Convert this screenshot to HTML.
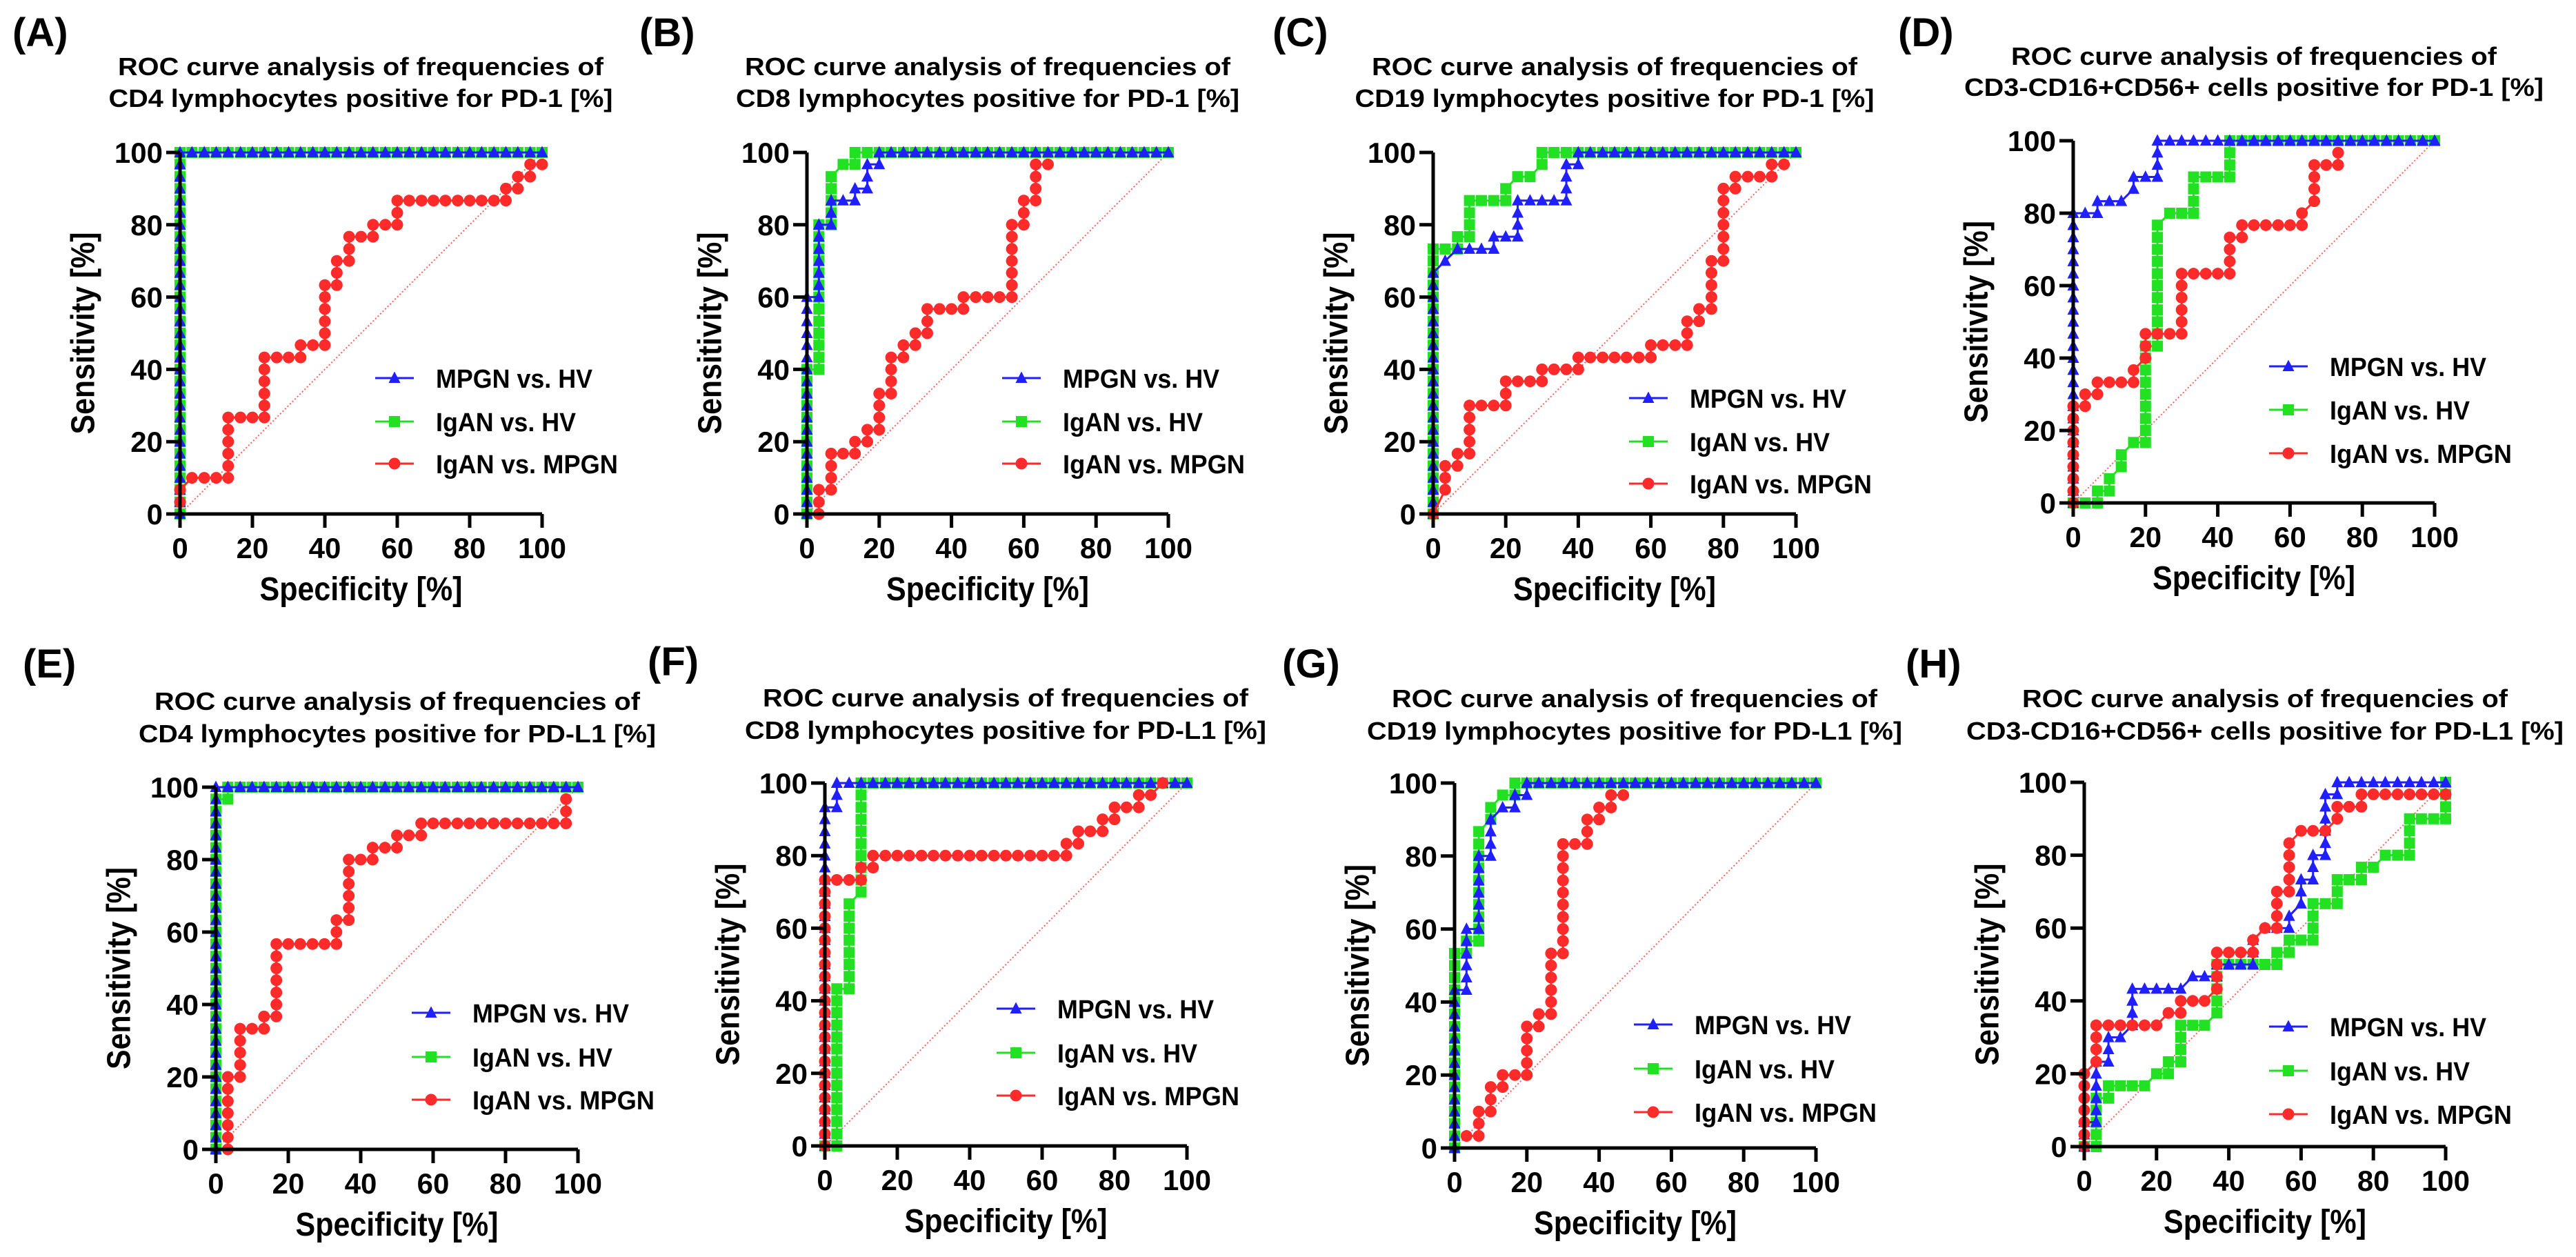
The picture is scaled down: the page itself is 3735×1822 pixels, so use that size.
<!DOCTYPE html>
<html><head><meta charset="utf-8"><style>
html,body{margin:0;padding:0;background:#fff;}
svg{display:block;font-family:"Liberation Sans",Arial,sans-serif;font-weight:bold;}
</style></head><body>
<svg id="fig" width="3735" height="1822" viewBox="0 0 3735 1822" xmlns="http://www.w3.org/2000/svg"></svg>
<script>
// Observed marker grid (percent)
const GRID = [0,3.3,6.7,10,13.3,16.7,20,23.3,26.7,30,33.3,36.7,40,43.3,46.7,50,53.3,56.7,60,63.3,66.7,70,73.3,76.7,80,83.3,86.7,90,93.3,96.7,100];
const xTicks = [0,20,40,60,80,100];
const yTicks = [0,20,40,60,80,100];
const seriesNames = ["MPGN vs. HV","IgAN vs. HV","IgAN vs. MPGN"];

const panelLabels = ["(A)","(B)","(C)","(D)","(E)","(F)","(G)","(H)"];
const titleLine1 = "ROC curve analysis of frequencies of";
const titleLine2 = ["CD4 lymphocytes positive for PD-1 [%]","CD8 lymphocytes positive for PD-1 [%]","CD19 lymphocytes positive for PD-1 [%]","CD3-CD16+CD56+ cells positive for PD-1 [%]","CD4 lymphocytes positive for PD-L1 [%]","CD8 lymphocytes positive for PD-L1 [%]","CD19 lymphocytes positive for PD-L1 [%]","CD3-CD16+CD56+ cells positive for PD-L1 [%]"];

// Series corner points [x(100-spec), sensitivity]
const aBlue=[[0,0],[0,100],[100,100]];
const aGreen=[[0,0],[0,100],[100,100]];
const aRed=[[0,3.3],[0,6.7],[3.3,10],[13.3,10],[13.3,26.7],[23.3,26.7],[23.3,43.3],[33.3,43.3],[33.3,46.7],[40,46.7],[40,63.3],[43.3,63.3],[43.3,70],[46.7,70],[46.7,76.7],[53.3,76.7],[53.3,80],[60,80],[60,86.7],[90,86.7],[90,90],[93.3,90],[93.3,93.3],[96.7,93.3],[96.7,96.7],[100,96.7]];
const bBlue=[[0,0],[0,60],[3.3,60],[3.3,80],[6.7,80],[6.7,86.7],[13.3,86.7],[13.3,90],[16.7,90],[16.7,96.7],[20,96.7],[20,100],[100,100]];
const bGreen=[[0,0],[0,40],[3.3,40],[3.3,80],[6.7,80],[6.7,93.3],[10,96.7],[13.3,96.7],[13.3,100],[100,100]];
const bRed=[[3.3,0],[3.3,6.7],[6.7,6.7],[6.7,16.7],[13.3,16.7],[13.3,20],[16.7,20],[16.7,23.3],[20,23.3],[20,33.3],[23.3,33.3],[23.3,43.3],[26.7,43.3],[26.7,46.7],[30,46.7],[30,50],[33.3,50],[33.3,56.7],[43.3,56.7],[43.3,60],[56.7,60],[56.7,80],[60,80],[60,86.7],[63.3,86.7],[63.3,96.7],[66.7,96.7]];
const cBlue=[[0,0],[0,66.7],[3.3,70],[6.7,73.3],[16.7,73.3],[16.7,76.7],[23.3,76.7],[23.3,86.7],[36.7,86.7],[36.7,96.7],[40,96.7],[40,100],[100,100]];
const cGreen=[[0,0],[0,73.3],[6.7,73.3],[6.7,76.7],[10,76.7],[10,86.7],[20,86.7],[20,90],[23.3,93.3],[26.7,93.3],[30,96.7],[30,100],[100,100]];
const cRed=[[0,0],[3.3,6.7],[3.3,13.3],[6.7,13.3],[6.7,16.7],[10,16.7],[10,30],[20,30],[20,36.7],[30,36.7],[30,40],[40,40],[40,43.3],[60,43.3],[60,46.7],[70,46.7],[70,53.3],[73.3,53.3],[73.3,56.7],[76.7,56.7],[76.7,70],[80,70],[80,90],[83.3,90],[83.3,93.3],[93.3,93.3],[93.3,96.7],[96.7,96.7]];
const dBlue=[[0,0],[0,80],[6.7,80],[6.7,83.3],[13.3,83.3],[16.7,86.7],[16.7,90],[23.3,90],[23.3,100],[100,100]];
const dGreen=[[0,0],[6.7,0],[6.7,3.3],[10,3.3],[10,6.7],[13.3,10],[13.3,13.3],[16.7,16.7],[20,16.7],[20,43.3],[23.3,43.3],[23.3,76.7],[26.7,80],[33.3,80],[33.3,90],[43.3,90],[43.3,100],[100,100]];
const dRed=[[0,0],[0,26.7],[3.3,26.7],[3.3,30],[6.7,30],[6.7,33.3],[16.7,33.3],[16.7,36.7],[20,40],[20,46.7],[30,46.7],[30,63.3],[43.3,63.3],[43.3,73.3],[46.7,73.3],[46.7,76.7],[63.3,76.7],[63.3,80],[66.7,83.3],[66.7,93.3],[73.3,93.3],[73.3,96.7]];
const eBlue=[[0,0],[0,100],[100,100]];
const eGreen=[[0,0],[0,96.7],[3.3,96.7],[3.3,100],[100,100]];
const eRed=[[3.3,0],[3.3,20],[6.7,20],[6.7,33.3],[13.3,33.3],[13.3,36.7],[16.7,36.7],[16.7,56.7],[33.3,56.7],[33.3,63.3],[36.7,63.3],[36.7,80],[43.3,80],[43.3,83.3],[50,83.3],[50,86.7],[56.7,86.7],[56.7,90],[96.7,90],[96.7,96.7]];
const fBlue=[[0,0],[0,93.3],[3.3,93.3],[3.3,100],[100,100]];
const fGreen=[[0,0],[3.3,0],[3.3,43.3],[6.7,43.3],[6.7,66.7],[10,70],[10,100],[100,100]];
const fRed=[[0,0],[0,73.3],[10,73.3],[10,76.7],[13.3,76.7],[13.3,80],[66.7,80],[66.7,83.3],[70,83.3],[70,86.7],[76.7,86.7],[76.7,90],[80,90],[80,93.3],[86.7,93.3],[86.7,96.7],[90,96.7],[93.3,100]];
const gBlue=[[0,0],[0,43.3],[3.3,43.3],[3.3,60],[6.7,60],[6.7,80],[10,80],[10,90],[13.3,93.3],[16.7,93.3],[16.7,96.7],[20,96.7],[20,100],[100,100]];
const gGreen=[[0,0],[0,53.3],[3.3,53.3],[3.3,56.7],[6.7,56.7],[6.7,86.7],[10,90],[10,93.3],[13.3,96.7],[16.7,96.7],[16.7,100],[100,100]];
const gRed=[[3.3,3.3],[6.7,3.3],[6.7,10],[10,10],[10,16.7],[13.3,16.7],[13.3,20],[20,20],[20,33.3],[23.3,33.3],[23.3,36.7],[26.7,36.7],[26.7,53.3],[30,53.3],[30,83.3],[36.7,83.3],[36.7,90],[40,90],[40,93.3],[43.3,93.3],[43.3,96.7],[46.7,96.7]];
const hBlue=[[0,0],[0,6.7],[3.3,6.7],[3.3,23.3],[6.7,23.3],[6.7,30],[10,30],[13.3,33.3],[13.3,43.3],[26.7,43.3],[30,46.7],[36.7,46.7],[36.7,50],[46.7,50],[46.7,56.7],[50,60],[56.7,60],[56.7,63.3],[60,66.7],[60,73.3],[63.3,73.3],[63.3,80],[66.7,80],[66.7,96.7],[70,96.7],[70,100],[100,100]];
const hGreen=[[0,0],[3.3,0],[3.3,13.3],[6.7,13.3],[6.7,16.7],[16.7,16.7],[20,20],[23.3,20],[23.3,23.3],[26.7,23.3],[26.7,33.3],[33.3,33.3],[36.7,36.7],[36.7,50],[53.3,50],[53.3,53.3],[56.7,53.3],[56.7,56.7],[63.3,56.7],[63.3,66.7],[70,66.7],[70,73.3],[76.7,73.3],[76.7,76.7],[80,76.7],[83.3,80],[90,80],[90,90],[100,90],[100,100]];
const hRed=[[0,0],[0,20],[3.3,23.3],[3.3,33.3],[20,33.3],[23.3,36.7],[26.7,36.7],[26.7,40],[33.3,40],[36.7,43.3],[36.7,53.3],[46.7,53.3],[46.7,56.7],[50,60],[53.3,60],[53.3,70],[56.7,70],[56.7,83.3],[60,86.7],[66.7,86.7],[70,90],[70,93.3],[76.7,93.3],[76.7,96.7],[100,96.7]];

const blueSeries=[aBlue,bBlue,cBlue,dBlue,eBlue,fBlue,gBlue,hBlue];
const greenSeries=[aGreen,bGreen,cGreen,dGreen,eGreen,fGreen,gGreen,hGreen];
const redSeries=[aRed,bRed,cRed,dRed,eRed,fRed,gRed,hRed];

// layout (pixels)
const L=[
 {x0:261,x1:786,yT:221,yB:745,lab:[18,67],tc:523,tb:[109,155],tw2:731,lx:544,ly:[548,611,672]},
 {x0:1170,x1:1694,yT:221,yB:745,lab:[927,67],tc:1432,tb:[109,155],tw2:730,lx:1453,ly:[548,611,672]},
 {x0:2078,x1:2604,yT:221,yB:745,lab:[1845,67],tc:2341,tb:[109,155],tw2:753,lx:2362,ly:[577,640,701]},
 {x0:3006,x1:3530,yT:204,yB:729,lab:[2752,67],tc:3268,tb:[94,139],tw2:840,lx:3290,ly:[531,594,657]},
 {x0:313,x1:838,yT:1141,yB:1666,lab:[33,982],tc:576,tb:[1029,1076],tw2:750,lx:597,ly:[1468,1532,1594]},
 {x0:1196,x1:1721,yT:1135,yB:1661,lab:[939,979],tc:1458,tb:[1024,1071],tw2:756,lx:1445,ly:[1462,1526,1588]},
 {x0:2109,x1:2633,yT:1135,yB:1664,lab:[1859,982],tc:2370,tb:[1025,1072],tw2:776,lx:2369,ly:[1485,1549,1612]},
 {x0:3022,x1:3546,yT:1134,yB:1662,lab:[2763,982],tc:3284,tb:[1025,1072],tw2:866,lx:3290,ly:[1488,1552,1615]}
];
const legendW=[227,203,264];
const COL=["#1f1fff","#22e022","#ff2a2a"];
const NS="http://www.w3.org/2000/svg";
const svg=document.getElementById('fig');
function mk(tag,attrs,parent){const e=document.createElementNS(NS,tag);for(const k in attrs)e.setAttribute(k,attrs[k]);(parent||svg).appendChild(e);return e;}
function txt(s,attrs,parent){const e=mk('text',attrs,parent);e.textContent=s;return e;}

function marker(g,kind,x,y){
  let m;
  if(kind===0){m=mk('polygon',{points:`${x},${y-9.5} ${x-8.5},${y+7} ${x+8.5},${y+7}`,fill:COL[0]},g);}
  else if(kind===1){m=mk('rect',{x:x-8,y:y-8,width:16,height:16,fill:COL[1]},g);}
  else {m=mk('circle',{cx:x,cy:y,r:8.5,fill:COL[2]},g);}
  
  
}

for(let p=0;p<8;p++){
  const c=L[p];
  const sx=v=>c.x0+(c.x1-c.x0)*v/100;
  const sy=v=>c.yB-(c.yB-c.yT)*v/100;
  const g=mk('g',{});
  
  
  const lab=txt(panelLabels[p],{x:c.lab[0],y:c.lab[1],'font-size':58},g);
  
  
  const t1=txt(titleLine1,{x:c.tc,y:c.tb[0],'font-size':36,'text-anchor':'middle',textLength:704,lengthAdjust:'spacingAndGlyphs'},g);
  
  
  const t2=txt(titleLine2[p],{x:c.tc,y:c.tb[1],'font-size':36,'text-anchor':'middle',textLength:c.tw2,lengthAdjust:'spacingAndGlyphs'},g);
  
  
  const dg=mk('line',{x1:sx(0),y1:sy(0),x2:sx(100),y2:sy(100),stroke:'#ff6060','stroke-width':2,'stroke-dasharray':'2,3'},g);
  
  
  const sets=[greenSeries[p],blueSeries[p],redSeries[p]];
  const kinds=[1,0,2];
  for(let s=0;s<3;s++){
    const pts=sets[s],k=kinds[s];
    const sg=mk('g',{},g);
    
    
    const pl=mk('polyline',{points:pts.map(q=>sx(q[0])+','+sy(q[1])).join(' '),fill:'none',stroke:COL[k],'stroke-width':3},sg);
    
    
    for(let i=0;i<pts.length;i++){
      marker(sg,k,sx(pts[i][0]),sy(pts[i][1]));
      if(i<pts.length-1){
        const a=pts[i],b=pts[i+1];
        if(a[0]===b[0]){const lo=Math.min(a[1],b[1]),hi=Math.max(a[1],b[1]);GRID.forEach(v=>{if(v>lo&&v<hi)marker(sg,k,sx(a[0]),sy(v));});}
        else if(a[1]===b[1]){const lo=Math.min(a[0],b[0]),hi=Math.max(a[0],b[0]);GRID.forEach(v=>{if(v>lo&&v<hi)marker(sg,k,sx(v),sy(a[1]));});}
      }
    }
  }
  const ax=mk('path',{d:`M${c.x0},${c.yT} V${c.yB} H${c.x1}`,fill:'none',stroke:'#000','stroke-width':5},g);
  
  
  yTicks.forEach(v=>{
    mk('line',{x1:c.x0-20,x2:c.x0,y1:sy(v),y2:sy(v),stroke:'#000','stroke-width':5},g);
    const t=txt(v,{x:c.x0-25,y:sy(v)+15,'font-size':42,'text-anchor':'end'},g);
    
    
  });
  xTicks.forEach(v=>{
    mk('line',{x1:sx(v),x2:sx(v),y1:c.yB,y2:c.yB+20,stroke:'#000','stroke-width':5},g);
    const t=txt(v,{x:sx(v),y:c.yB+64,'font-size':42,'text-anchor':'middle'},g);
    
    
  });
  const xt=txt('Specificity [%]',{x:(c.x0+c.x1)/2,y:c.yB+125,'font-size':48,'text-anchor':'middle',textLength:294,lengthAdjust:'spacingAndGlyphs'},g);
  
  
  const ycx=c.x0-140,ycy=(c.yT+c.yB)/2;
  const yt=txt('Sensitivity [%]',{x:ycx,y:ycy,'font-size':48,'text-anchor':'middle','dominant-baseline':'central',textLength:293,lengthAdjust:'spacingAndGlyphs',transform:`rotate(-90 ${ycx} ${ycy})`},g);
  
  
  const lg=mk('g',{},g);
  
  
  [0,1,2].forEach(r=>{
    const y=c.ly[r];
    const e=mk('g',{},lg);
    
    
    mk('line',{x1:c.lx,x2:c.lx+56,y1:y,y2:y,stroke:COL[r],'stroke-width':3},e);
    marker(e,r,c.lx+28,y);
    txt(seriesNames[r],{x:c.lx+88,y:y+14,'font-size':38,textLength:legendW[r],lengthAdjust:'spacingAndGlyphs'},e);
  });
}
</script>
</body></html>
